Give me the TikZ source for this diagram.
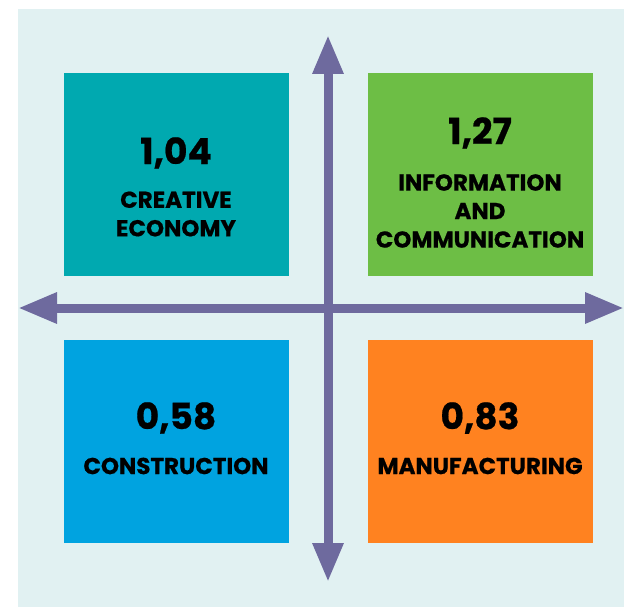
\documentclass[tikz,border=0pt]{standalone}
\usepackage{fontspec}
\setmainfont{Poppins}[UprightFont=*-Bold, FakeBold=0.6]
\usetikzlibrary{arrows.meta}
\definecolor{bgpale}{HTML}{E1F1F2}
\definecolor{cteal}{HTML}{00A9B0}
\definecolor{cgreen}{HTML}{6DBE45}
\definecolor{cblue}{HTML}{00A3E0}
\definecolor{corange}{HTML}{FF8220}
\definecolor{axispurple}{HTML}{6E6A9E}
\tikzset{
  tile/.style={minimum width=225pt, minimum height=203pt, inner sep=0pt, draw=none},
  bignum/.style={font=\fontsize{36}{40}\selectfont, text=black},
  caption/.style={font=\fontsize{23}{28.5}\selectfont, text=black, align=center},
  axis/.style={draw=axispurple, line width=9pt, {Triangle[length=39pt,width=29pt]}-{Triangle[length=39pt,width=29pt]}}
}
\begin{document}
\begin{tikzpicture}[x=1pt,y=-1pt]
  \useasboundingbox (0,0) rectangle (624,607);
  \fill[bgpale] (18,9) rectangle (624,607);
  % quadrant tiles
  \node[tile, fill=cteal,   anchor=north west] (tl) at (64,73) {};
  \node[tile, fill=cgreen,  anchor=north west] (tr) at (368,73) {};
  \node[tile, fill=cblue,   anchor=north west] (bl) at (64,340) {};
  \node[tile, fill=corange, anchor=north west] (br) at (368,340) {};
  % texts
  \node[bignum]  (tlnum) at (176,153) {1,04};
  \node[caption] (tltxt) at (176,214) {CREATIVE\\ECONOMY};
  \node[bignum]  (trnum) at (480,133) {1,27};
  \node[caption] (trtxt) at (480,211) {INFORMATION\\AND\\COMMUNICATION};
  \node[bignum]  (blnum) at (176,418) {0,58};
  \node[caption] (bltxt) at (176,466) {CONSTRUCTION};
  \node[bignum]  (brnum) at (480,418) {0,83};
  \node[caption] (brtxt) at (480,466) {MANUFACTURING};
  % axes
  \coordinate (ytop) at (328,35);
  \coordinate (ybot) at (328,582);
  \coordinate (xleft) at (18,308);
  \coordinate (xright) at (624,308);
  \draw[axis] (ytop) -- (ybot);
  \draw[axis] (xleft) -- (xright);
\end{tikzpicture}
\end{document}
